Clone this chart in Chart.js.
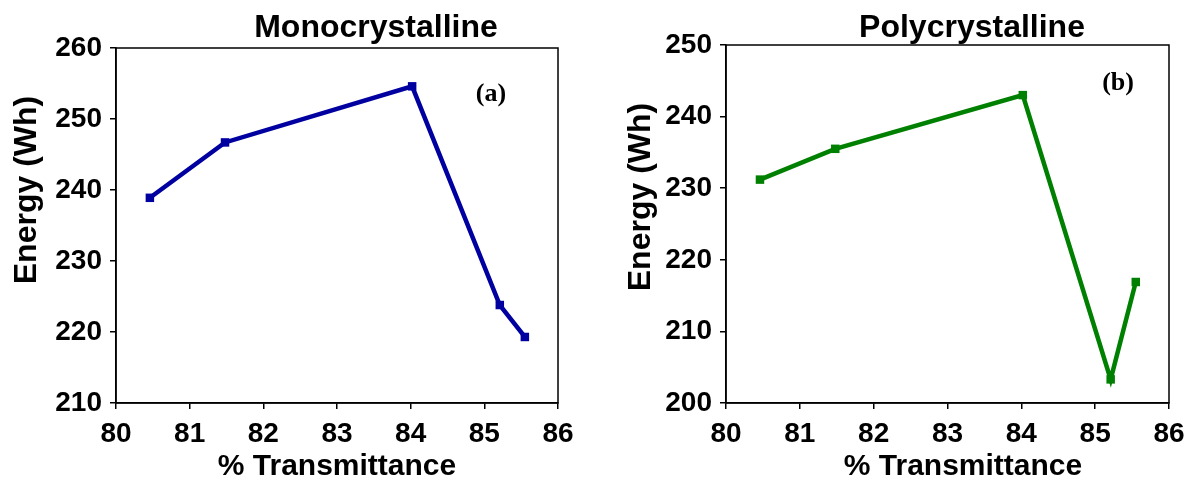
<!DOCTYPE html>
<html>
<head>
<meta charset="utf-8">
<script src="https://cdn.jsdelivr.net/npm/chart.js@4"></script>
<style>
  body { margin: 0; background: #fff; }
  .painel { position: absolute; top: 0; width: 597px; height: 481px; }
</style>
</head>
<body>
<div class="painel" style="left:0"><canvas id="monoChart" width="597" height="481"></canvas></div>
<div class="painel" style="left:597px"><canvas id="polyChart" width="597" height="481"></canvas></div>
<script>
var transmitancia = [80.46, 81.48, 84.02, 85.21, 85.55];
var energiaMono = [238.9, 246.7, 254.6, 223.8, 219.3];
var energiaPoly = [231.2, 235.5, 243.0, 203.3, 216.9];
var ticksX = [80, 81, 82, 83, 84, 85, 86];
var ticksMono = [210, 220, 230, 240, 250, 260];
var ticksPoly = [200, 210, 220, 230, 240, 250];

var fonte = 'Liberation Sans, Arial, sans-serif';

function pontos(ys) {
  return transmitancia.map(function (x, i) { return { x: x, y: ys[i] }; });
}

// caixa em volta do gráfico, títulos e letra do painel
var rotulos = {
  id: 'rotulos',
  afterDraw: function (chart, args, opts) {
    var ctx = chart.ctx;
    var a = chart.chartArea;
    ctx.save();
    ctx.strokeStyle = '#000';
    ctx.lineWidth = 1.5;
    ctx.strokeRect(a.left, a.top, a.right - a.left, a.bottom - a.top);

    ctx.fillStyle = '#000';
    ctx.textAlign = 'center';
    ctx.textBaseline = 'alphabetic';
    ctx.font = 'bold 32px ' + fonte;
    ctx.fillText(opts.titulo, opts.tituloX, 37);
    ctx.font = 'bold 30px ' + fonte;
    ctx.fillText('% Transmittance', opts.eixoX, 475);

    ctx.save();
    ctx.translate(opts.eixoYx, opts.eixoYy);
    ctx.rotate(-Math.PI / 2);
    ctx.textBaseline = 'middle';
    ctx.font = 'bold 32px ' + fonte;
    ctx.fillText('Energy (Wh)', 0, 0);
    ctx.restore();

    ctx.font = 'bold 26px "Liberation Serif", "Times New Roman", serif';
    ctx.textBaseline = 'middle';
    ctx.fillText(opts.letra,
      chart.scales.x.getPixelForValue(opts.letraPos[0]),
      chart.scales.y.getPixelForValue(opts.letraPos[1]));
    ctx.restore();
  }
};

function criaGrafico(id, ys, cor, yTicks, cfg) {
  var ctx = document.getElementById(id).getContext('2d');
  return new Chart(ctx, {
    type: 'line',
    data: {
      datasets: [{
        data: pontos(ys),
        borderColor: cor,
        backgroundColor: cor,
        borderWidth: 4.5,
        pointStyle: 'rect',
        pointRadius: 6,
        pointBorderWidth: 0,
        pointBackgroundColor: cor,
        tension: 0
      }]
    },
    options: {
      responsive: false,
      animation: false,
      layout: { padding: { top: cfg.topo, right: cfg.direita, left: 0, bottom: 0 } },
      plugins: {
        legend: { display: false },
        tooltip: { enabled: false },
        rotulos: cfg
      },
      scales: {
        x: {
          type: 'linear',
          min: ticksX[0],
          max: ticksX[ticksX.length - 1],
          afterBuildTicks: function (s) { s.ticks = ticksX.map(function (v) { return { value: v }; }); },
          afterFit: function (s) { s.height = 78; },
          ticks: { color: '#000', padding: 8, font: { family: fonte, size: 28, weight: 'bold' } },
          grid: { drawOnChartArea: false, tickLength: 6, color: '#000', lineWidth: 1.5 },
          border: { color: '#000', width: 1.5 }
        },
        y: {
          min: yTicks[0],
          max: yTicks[yTicks.length - 1],
          afterBuildTicks: function (s) { s.ticks = yTicks.map(function (v) { return { value: v }; }); },
          afterFit: function (s) { s.width = cfg.esquerda; },
          ticks: { color: '#000', padding: 8, font: { family: fonte, size: 28, weight: 'bold' } },
          grid: { drawOnChartArea: false, tickLength: 6, color: '#000', lineWidth: 1.5 },
          border: { color: '#000', width: 1.5 }
        }
      }
    },
    plugins: [rotulos]
  });
}

criaGrafico('monoChart', energiaMono, '#0000a0', ticksMono, {
  topo: 48, direita: 39, esquerda: 116,
  titulo: 'Monocrystalline', tituloX: 376,
  eixoX: 337, eixoYx: 27, eixoYy: 190,
  letra: '(a)', letraPos: [85.09, 253.5]
});

criaGrafico('polyChart', energiaPoly, '#008000', ticksPoly, {
  topo: 45, direita: 25, esquerda: 129,
  titulo: 'Polycrystalline', tituloX: 375,
  eixoX: 366, eixoYx: 44, eixoYy: 197,
  letra: '(b)', letraPos: [85.31, 244.7]
});
</script>
</body>
</html>
